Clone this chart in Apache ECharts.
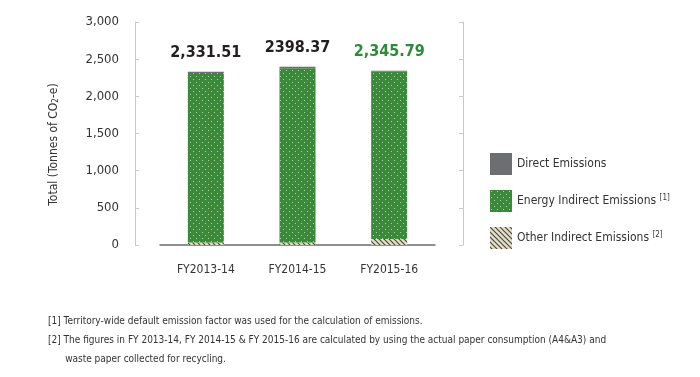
<!DOCTYPE html>
<html>
<head>
<meta charset="utf-8">
<script src="https://cdn.jsdelivr.net/npm/echarts@6/dist/echarts.min.js"></script>
<style>
  html, body { margin: 0; padding: 0; background: #fff; }
  #chart { width: 700px; height: 377px; }
</style>
</head>
<body>
<div id="chart"></div>
<script>
// 数据
var categories = ["FY2013-14", "FY2014-15", "FY2015-16"];
var otherIndirect = [35, 35, 80];       // 斜线部分
var energyIndirect = [2278.5, 2343.4, 2250.8];
var directEmissions = [18, 20, 15];     // 顶部灰色
var totalLabels = ["2,331.51", "2398.37", "2,345.79"];
var yTicks = [0, 500, 1000, 1500, 2000, 2500, 3000];
var footnotes = [
  "[1] Territory-wide default emission factor was used for the calculation of emissions.",
  "[2] The figures in FY 2013-14, FY 2014-15 & FY 2015-16 are calculated by using the actual paper consumption (A4&A3) and",
  "      waste paper collected for recycling."
];

var FONT = "'DejaVu Sans Condensed', sans-serif";

// 绿色点状图案
function dotPattern() {
  var c = document.createElement("canvas");
  c.width = 6; c.height = 6;
  var ctx = c.getContext("2d");
  ctx.fillStyle = "#3b8a3a";
  ctx.fillRect(0, 0, 6, 6);
  ctx.fillStyle = "rgba(220,240,215,0.7)";
  ctx.fillRect(1, 1, 1, 1);
  ctx.fillRect(4, 4, 1, 1);
  return c;
}
// 斜线图案
function hatchPattern() {
  var c = document.createElement("canvas");
  c.width = 5; c.height = 5;
  var ctx = c.getContext("2d");
  ctx.fillStyle = "#e4dfca";
  ctx.fillRect(0, 0, 5, 5);
  ctx.strokeStyle = "#4b4a3e";
  ctx.lineWidth = 1.2;
  ctx.beginPath();
  ctx.moveTo(-1, -1); ctx.lineTo(6, 6);
  ctx.moveTo(-1, 4); ctx.lineTo(1, 6);
  ctx.moveTo(4, -1); ctx.lineTo(6, 1);
  ctx.stroke();
  return c;
}

var chart = echarts.init(document.getElementById("chart"));
var axisCommon = {
  type: "value",
  min: yTicks[0],
  max: yTicks[yTicks.length - 1],
  interval: yTicks[1] - yTicks[0],
  splitLine: { show: false },
  axisLine: { show: true, lineStyle: { color: "#c9c9c9" } },
  axisTick: { show: true, inside: true, length: 4, lineStyle: { color: "#c9c9c9" } }
};

var option = {
  animation: false,
  grid: { left: 160, right: 265, top: 22, bottom: 132 },
  legend: {
    orient: "vertical",
    left: 485,
    top: 148,
    icon: "rect",
    itemWidth: 22,
    itemHeight: 22,
    itemGap: 15,
    data: ["Direct Emissions", "Energy Indirect Emissions", "Other Indirect Emissions"],
    formatter: function (name) {
      if (name === "Energy Indirect Emissions") return name + " {s|[1]}";
      if (name === "Other Indirect Emissions") return name + " {s|[2]}";
      return name;
    },
    textStyle: {
      fontFamily: FONT, fontSize: 12, color: "#333",
      rich: { s: { fontFamily: FONT, fontSize: 8, color: "#333", verticalAlign: "top", padding: [0, 0, 6, 0] } }
    }
  },
  xAxis: {
    type: "category",
    data: categories,
    axisLine: { lineStyle: { color: "#6b6b6b", width: 1.5 } },
    axisTick: { show: false },
    axisLabel: { margin: 19, fontFamily: FONT, fontSize: 12, color: "#333" }
  },
  yAxis: [
    Object.assign({}, axisCommon, {
      position: "left",
      offset: 25,
      name: "Total (Tonnes of CO{sub|2}-e)",
      nameLocation: "middle",
      nameGap: 75,
      nameTextStyle: {
        fontFamily: FONT, fontSize: 12, color: "#333",
        padding: [0, 22, 0, 0],
        rich: { sub: { fontFamily: FONT, fontSize: 8, color: "#333", verticalAlign: "bottom" } }
      },
      axisLabel: {
        margin: 16, fontFamily: FONT, fontSize: 13, color: "#333",
        formatter: function (v) { return v.toLocaleString("en-US"); }
      }
    }),
    Object.assign({}, axisCommon, {
      position: "right",
      offset: 28,
      axisLabel: { show: false }
    })
  ],
  series: [
    {
      name: "Other Indirect Emissions",
      type: "bar",
      stack: "total",
      barWidth: 36,
      itemStyle: { color: { image: hatchPattern(), repeat: "repeat" } },
      data: otherIndirect
    },
    {
      name: "Energy Indirect Emissions",
      type: "bar",
      stack: "total",
      barWidth: 36,
      itemStyle: { color: { image: dotPattern(), repeat: "repeat" } },
      data: energyIndirect
    },
    {
      name: "Direct Emissions",
      type: "bar",
      stack: "total",
      barWidth: 36,
      itemStyle: { color: "#6d6e71" },
      label: {
        show: true,
        position: "top",
        distance: 11,
        formatter: function (p) {
          return (p.dataIndex === 2 ? "{g|" : "{d|") + totalLabels[p.dataIndex] + "}";
        },
        rich: {
          d: { fontFamily: FONT, fontSize: 16, fontWeight: "bold", color: "#231f20" },
          g: { fontFamily: FONT, fontSize: 16, fontWeight: "bold", color: "#2e8b35" }
        }
      },
      data: directEmissions
    }
  ],
  graphic: footnotes.map(function (t, i) {
    return {
      type: "text",
      left: 48,
      top: 316 + i * 19,
      style: { text: t, fontFamily: FONT, fontSize: 10, fill: "#333" }
    };
  })
};

chart.setOption(option);
</script>
</body>
</html>
